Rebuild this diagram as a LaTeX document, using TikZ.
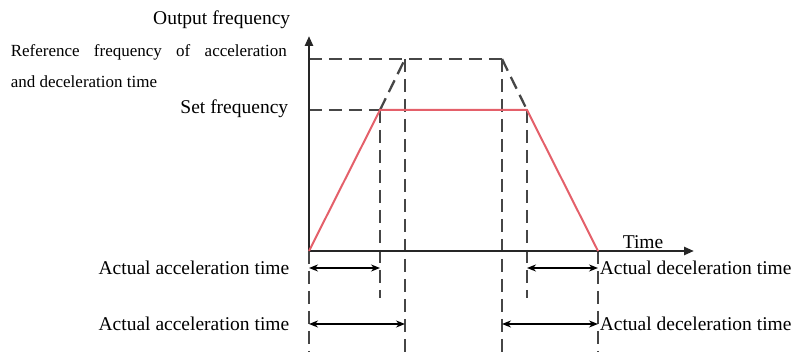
\documentclass[tikz,border=0pt]{standalone}
\usepackage{fontspec}
\setmainfont{Liberation Serif}
\usetikzlibrary{arrows.meta}
\definecolor{rampred}{RGB}{228,96,106}
\definecolor{guidegray}{RGB}{70,70,70}

\begin{document}
\begin{tikzpicture}[
    x=1pt, y=-1pt,
    line width=1.6pt,
    font=\fontsize{19.5}{21}\selectfont,
    axisline/.style={draw=black!85, line width=2.4pt, -{Triangle[length=10pt,width=8pt]}},
    guide/.style={draw=guidegray, line width=2.3pt, dash pattern=on 13pt off 7pt},
    ramp/.style={draw=rampred, line width=2pt},
    span/.style={{Stealth[length=9pt,width=7pt]}-{Stealth[length=9pt,width=7pt]}, line width=1.6pt},
    lbl/.style={inner sep=1pt}
]
    \useasboundingbox (0,0) rectangle (795,352);

    % Coordinates
    \coordinate (origin) at (309, 251);
    \coordinate (ytop)   at (309, 36);
    \coordinate (xend)   at (694, 251);
    \coordinate (refy)   at (309, 59);
    \coordinate (sety)   at (309, 110);

    \coordinate (accset)  at (380, 110);
    \coordinate (accpeak) at (405, 59);
    \coordinate (decpeak) at (502, 59);
    \coordinate (decset)  at (527, 110);
    \coordinate (stop)    at (598, 251);

    \coordinate (originlow)  at (309, 352);
    \coordinate (accsetlow)  at (380, 298);
    \coordinate (accpeaklow) at (405, 352);
    \coordinate (decpeaklow) at (502, 352);
    \coordinate (decsetlow)  at (527, 298);
    \coordinate (stoplow)    at (598, 352);

    % Guide lines
    \draw[guide] (refy) -- (decpeak);
    \draw[guide] (sety) -- (accset);
    \draw[guide] (accset) -- (accpeak);
    \draw[guide] (decpeak) -- (decset);
    \draw[guide] (accset) -- (accsetlow);
    \draw[guide] (accpeak) -- (accpeaklow);
    \draw[guide] (decpeak) -- (decpeaklow);
    \draw[guide] (decset) -- (decsetlow);
    \draw[guide] (origin) -- (originlow);
    \draw[guide] (stop) -- (stoplow);

    % Axes
    \draw[axisline] (origin) -- (ytop);
    \draw[axisline] (origin) -- (xend);

    % Output curve
    \draw[ramp] (origin) -- (accset) -- (decset) -- (stop);

    % Time spans
    \coordinate (a1l) at (309, 268);
    \coordinate (a1r) at (380, 268);
    \coordinate (d1l) at (527, 268);
    \coordinate (d1r) at (598, 268);
    \coordinate (a2l) at (309, 324);
    \coordinate (a2r) at (405, 324);
    \coordinate (d2l) at (502, 324);
    \coordinate (d2r) at (598, 324);
    \draw[span] (a1l) -- (a1r);
    \draw[span] (d1l) -- (d1r);
    \draw[span] (a2l) -- (a2r);
    \draw[span] (d2l) -- (d2r);

    % Labels
    \node[lbl, anchor=east] (outfreq) at (292, 20) {Output frequency};
    \node[lbl, anchor=base west, font=\fontsize{17}{18}\selectfont] (refa) at (9, 57)
        {\makebox[276pt][s]{Reference frequency of acceleration}};
    \node[lbl, anchor=base west, font=\fontsize{17}{18}\selectfont] (refb) at (9, 88)
        {and deceleration time};
    \node[lbl, anchor=east] (setfreq) at (290, 109) {Set frequency};
    \node[lbl, anchor=south] (timelbl) at (643, 250) {Time};

    \node[lbl, anchor=east] (acc1) at (291, 268) {Actual acceleration time};
    \node[lbl, anchor=east] (acc2) at (291, 324) {Actual acceleration time};
    \node[lbl, anchor=west] (dec1) at (598, 268) {Actual deceleration time};
    \node[lbl, anchor=west] (dec2) at (598, 324) {Actual deceleration time};

\end{tikzpicture}
\end{document}
